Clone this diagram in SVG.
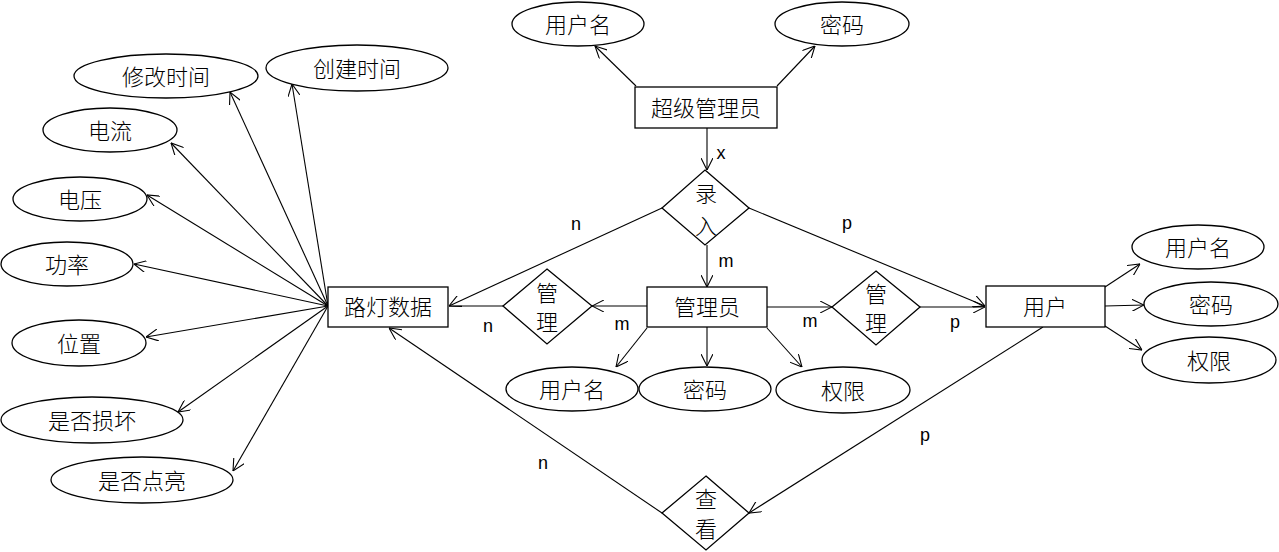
<svg xmlns="http://www.w3.org/2000/svg" width="1279" height="552" viewBox="0 0 1279 552">
<style>
.s{fill:#fff;stroke:#000;stroke-width:1.3}
.t{font-family:"Noto Sans CJK SC",sans-serif;font-size:22px;font-weight:300;fill:#000;text-anchor:middle;dominant-baseline:central}
.l{font-family:"Liberation Sans",Arial,sans-serif;font-size:18px;fill:#000;text-anchor:middle;dominant-baseline:central}
.c{stroke:#000;stroke-width:1.1;fill:none}
</style>
<defs>
<marker id="a" viewBox="0 0 12 12" refX="12" refY="6" markerWidth="12" markerHeight="12" markerUnits="userSpaceOnUse" orient="auto">
<path d="M0,0 L12,6 L0,12" fill="none" stroke="#000" stroke-width="1.1"/>
</marker>
</defs>
<rect width="1279" height="552" fill="#fff"/>
<g id="connectors">
<line class="c" x1="636" y1="86" x2="595" y2="46" marker-end="url(#a)"/>
<line class="c" x1="777" y1="86" x2="815" y2="46" marker-end="url(#a)"/>
<line class="c" x1="707" y1="128" x2="707" y2="170" marker-end="url(#a)"/>
<line class="c" x1="662" y1="208" x2="449" y2="306" marker-end="url(#a)"/>
<line class="c" x1="749" y1="208" x2="985" y2="306" marker-end="url(#a)"/>
<line class="c" x1="707" y1="245" x2="707" y2="287" marker-end="url(#a)"/>
<line class="c" x1="647" y1="306" x2="592" y2="306" marker-end="url(#a)"/>
<line class="c" x1="503" y1="306" x2="449" y2="306"/>
<line class="c" x1="767" y1="307" x2="832" y2="307" marker-end="url(#a)"/>
<line class="c" x1="920" y1="307" x2="985" y2="307" marker-end="url(#a)"/>
<line class="c" x1="1105" y1="287" x2="1140" y2="264" marker-end="url(#a)"/>
<line class="c" x1="1105" y1="306" x2="1144" y2="305" marker-end="url(#a)"/>
<line class="c" x1="1105" y1="326" x2="1142" y2="350" marker-end="url(#a)"/>
<line class="c" x1="647" y1="328" x2="616" y2="367" marker-end="url(#a)"/>
<line class="c" x1="707" y1="327" x2="707" y2="366" marker-end="url(#a)"/>
<line class="c" x1="767" y1="328" x2="802" y2="367" marker-end="url(#a)"/>
<line class="c" x1="662" y1="513" x2="389" y2="328" marker-end="url(#a)"/>
<line class="c" x1="1043" y1="327" x2="749" y2="513" marker-end="url(#a)"/>
<line class="c" x1="328" y1="306" x2="230" y2="92" marker-end="url(#a)"/>
<line class="c" x1="328" y1="306" x2="292" y2="84" marker-end="url(#a)"/>
<line class="c" x1="328" y1="306" x2="171" y2="143" marker-end="url(#a)"/>
<line class="c" x1="328" y1="306" x2="147" y2="195" marker-end="url(#a)"/>
<line class="c" x1="328" y1="306" x2="134" y2="264" marker-end="url(#a)"/>
<line class="c" x1="328" y1="306" x2="146" y2="337" marker-end="url(#a)"/>
<line class="c" x1="328" y1="306" x2="178" y2="412" marker-end="url(#a)"/>
<line class="c" x1="328" y1="306" x2="233" y2="471" marker-end="url(#a)"/>
<text class="l" x="721" y="153">x</text>
<text class="l" x="576" y="224">n</text>
<text class="l" x="847" y="223">p</text>
<text class="l" x="726" y="261">m</text>
<text class="l" x="488" y="326">n</text>
<text class="l" x="622" y="324">m</text>
<text class="l" x="810" y="321">m</text>
<text class="l" x="955" y="322">p</text>
<text class="l" x="925" y="435">p</text>
<text class="l" x="543" y="463">n</text>
</g>
<g id="super-admin"><rect class="s" x="635" y="87" width="142" height="41"/><text class="t" x="706" y="106">超级管理员</text></g>
<g id="sa-username"><ellipse class="s" cx="578" cy="24" rx="66" ry="22"/><text class="t" x="578" y="23">用户名</text></g>
<g id="sa-password"><ellipse class="s" cx="842" cy="24" rx="67" ry="22"/><text class="t" x="842" y="23">密码</text></g>
<g id="entry"><polygon class="s" points="705,170 749,208 705,245 662,208"/><text class="t" x="706" y="192">录</text><text class="t" x="706" y="224">入</text></g>
<g id="admin"><rect class="s" x="647" y="287" width="120" height="40"/><text class="t" x="707" y="305">管理员</text></g>
<g id="manage-left"><polygon class="s" points="547,269 592,306 547,344 503,306"/><text class="t" x="547" y="291">管</text><text class="t" x="547" y="320">理</text></g>
<g id="manage-right"><polygon class="s" points="876,271 920,307 876,345 832,307"/><text class="t" x="876" y="292">管</text><text class="t" x="876" y="321">理</text></g>
<g id="user"><rect class="s" x="986" y="286" width="119" height="41"/><text class="t" x="1045" y="305">用户</text></g>
<g id="u-username"><ellipse class="s" cx="1198" cy="247" rx="66" ry="22"/><text class="t" x="1198" y="246">用户名</text></g>
<g id="u-password"><ellipse class="s" cx="1211" cy="304" rx="67" ry="22"/><text class="t" x="1211" y="303">密码</text></g>
<g id="u-perm"><ellipse class="s" cx="1209" cy="360" rx="67" ry="23"/><text class="t" x="1209" y="359">权限</text></g>
<g id="a-username"><ellipse class="s" cx="572" cy="389" rx="66" ry="22"/><text class="t" x="572" y="388">用户名</text></g>
<g id="a-password"><ellipse class="s" cx="705" cy="389" rx="66" ry="22"/><text class="t" x="705" y="388">密码</text></g>
<g id="a-perm"><ellipse class="s" cx="843" cy="390" rx="67" ry="23"/><text class="t" x="843" y="389">权限</text></g>
<g id="view"><polygon class="s" points="706,476 749,513 706,550 662,513"/><text class="t" x="706" y="497">查</text><text class="t" x="706" y="527">看</text></g>
<g id="light-data"><rect class="s" x="328" y="287" width="120" height="40"/><text class="t" x="388" y="305">路灯数据</text></g>
<g id="modify-time"><ellipse class="s" cx="166" cy="76" rx="92" ry="22"/><text class="t" x="166" y="75">修改时间</text></g>
<g id="create-time"><ellipse class="s" cx="357" cy="68" rx="91" ry="23"/><text class="t" x="357" y="67">创建时间</text></g>
<g id="current"><ellipse class="s" cx="110" cy="130" rx="67" ry="22"/><text class="t" x="110" y="129">电流</text></g>
<g id="voltage"><ellipse class="s" cx="80" cy="199" rx="67" ry="22"/><text class="t" x="80" y="198">电压</text></g>
<g id="power"><ellipse class="s" cx="67" cy="264" rx="66" ry="22"/><text class="t" x="67" y="263">功率</text></g>
<g id="location"><ellipse class="s" cx="79" cy="343" rx="67" ry="23"/><text class="t" x="79" y="342">位置</text></g>
<g id="broken"><ellipse class="s" cx="92" cy="420" rx="91" ry="23"/><text class="t" x="92" y="419">是否损坏</text></g>
<g id="lit"><ellipse class="s" cx="142" cy="480" rx="91" ry="23"/><text class="t" x="142" y="479">是否点亮</text></g>
</svg>
